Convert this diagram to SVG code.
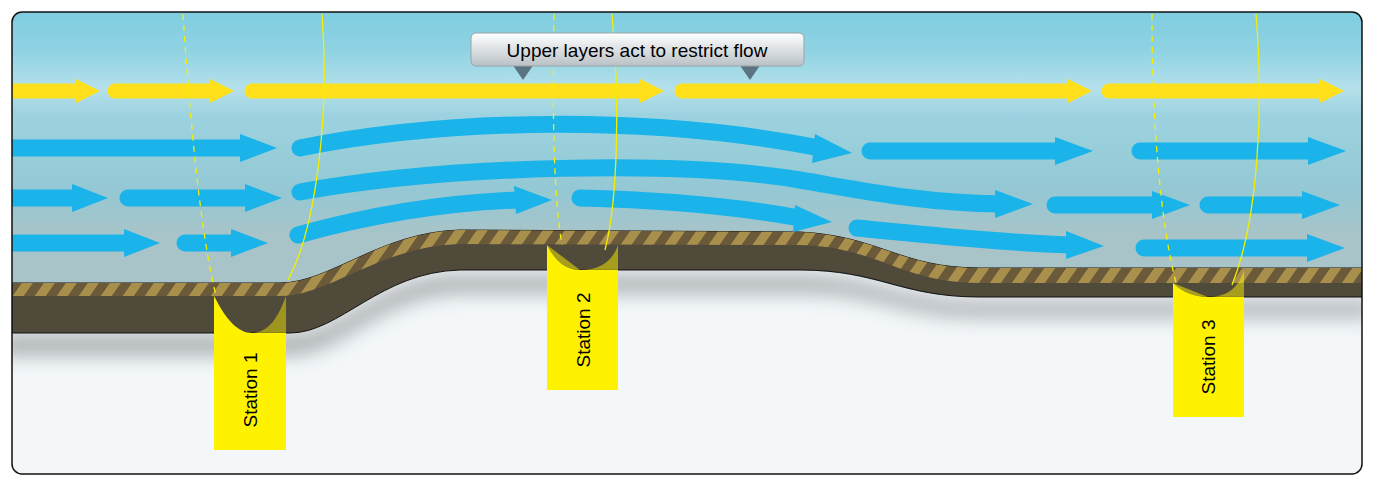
<svg xmlns="http://www.w3.org/2000/svg" width="1374" height="486" viewBox="0 0 1374 486">
<defs>
<linearGradient id="sky" x1="0" y1="0" x2="0" y2="1">
<stop offset="0" stop-color="#7fcde0"/><stop offset="0.12" stop-color="#8fd3e3"/><stop offset="0.24" stop-color="#b5e0ea"/><stop offset="0.32" stop-color="#9dd3e0"/><stop offset="0.55" stop-color="#93c8d4"/><stop offset="0.7" stop-color="#a8c4c8"/>
</linearGradient>
<linearGradient id="bub" x1="0" y1="0" x2="0" y2="1"><stop offset="0" stop-color="#ffffff"/><stop offset="1" stop-color="#b9c1c6"/></linearGradient>
<pattern id="stripe" width="22" height="40" patternUnits="userSpaceOnUse" patternTransform="skewX(-35)">
<rect width="22" height="40" fill="#6b5a3a"/><rect width="11" height="40" fill="#a8904c"/></pattern>
<filter id="sh" x="-0.1" y="-0.5" width="1.2" height="2"><feGaussianBlur stdDeviation="10"/></filter>
<clipPath id="fr"><rect x="12" y="12" width="1350" height="462" rx="10"/></clipPath>
</defs>
<style>
.y{fill:none;stroke:#ffe01a;stroke-width:15;stroke-linecap:round}
.yh{fill:#ffe01a}
.b{fill:none;stroke:#1ab3ea;stroke-width:17;stroke-linecap:round}
.bh{fill:#1ab3ea}
.vd{fill:none;stroke:#f2f000;stroke-width:1.3;stroke-dasharray:6 5}
.vs{fill:none;stroke:#f2f000;stroke-width:1.3}
.tag{fill:#fff200}
.lbl{font-family:"Liberation Sans",Arial,sans-serif;font-size:19px;fill:#000}
</style>
<g clip-path="url(#fr)">
<rect x="12" y="12" width="1350" height="462" fill="#f3f7fa"/>
<rect x="12" y="12" width="1350" height="320" fill="url(#sky)"/>
<path d="M0 333 L290 333 C340 333 380 270 460 270 L800 270 C880 272 900 297 980 297 L1374 297 L1374 486 L0 486Z" fill="#f3f7fa"/>
<path d="M0 336 L290 336 C340 336 380 276 460 276 L800 276 C880 278 900 302 980 302 L1374 302 L1374 316 L980 316 C900 316 880 292 800 292 L460 292 C380 294 340 354 290 354 L0 354Z" fill="#5a5f60" opacity="0.55" filter="url(#sh)"/>
<path d="M0 283 L280 283 C330 283 380 232 460 230 L800 232 C880 236 900 268 980 268 L1374 268 L1374 297 L980 297 C900 297 880 270 800 270 L460 270 C380 272 340 333 290 333 L0 333Z" fill="#4f4a3a" stroke="#111" stroke-width="1"/>
<path d="M0 283 L280 283 C330 283 380 232 460 230 L800 232 C880 236 900 268 980 268 L1374 268 L1374 283 L980 283 C900 283 880 247 800 245 L460 244 C380 246 330 296 280 296 L0 296Z" fill="url(#stripe)"/>
<g id="connectors">
<path class="y" d="M0 91 H78"/><path class="yh" d="M76 79 L100 91 L76 103Z"/>
<path class="y" d="M115 91 H212"/><path class="yh" d="M210 79 L234 91 L210 103Z"/>
<path class="y" d="M252 91 H642"/><path class="yh" d="M640 79 L664 91 L640 103Z"/>
<path class="y" d="M682 91 H1070"/><path class="yh" d="M1068 79 L1092 91 L1068 103Z"/>
<path class="y" d="M1109 91 H1322"/><path class="yh" d="M1320 79 L1344 91 L1320 103Z"/>

<path class="b" d="M0 148 H245"/><path class="bh" d="M240 134 L277 148 L240 162Z"/>
<path class="b" d="M300 148 C450 118 650 115 820 148"/><path class="bh" d="M815 134 L852 153 L812 163Z"/>
<path class="b" d="M870 151 H1058"/><path class="bh" d="M1055 137 L1093 151 L1055 165Z"/>
<path class="b" d="M1140 151 H1312"/><path class="bh" d="M1308 137 L1346 151 L1308 165Z"/>

<path class="b" d="M0 198 H75"/><path class="bh" d="M72 184 L108 198 L72 212Z"/>
<path class="b" d="M128 198 H248"/><path class="bh" d="M245 184 L282 198 L245 212Z"/>
<path class="b" d="M300 192 C450 165 680 160 800 180 C860 190 920 203 1000 204"/><path class="bh" d="M995 190 L1033 204 L995 218Z"/>
<path class="b" d="M1055 205 H1155"/><path class="bh" d="M1152 191 L1190 205 L1152 219Z"/>
<path class="b" d="M1208 205 H1305"/><path class="bh" d="M1302 191 L1340 205 L1302 219Z"/>

<path class="b" d="M0 243 H127"/><path class="bh" d="M124 229 L160 243 L124 257Z"/>
<path class="b" d="M185 243 H234"/><path class="bh" d="M231 229 L268 243 L231 257Z"/>
<path class="b" d="M298 235 C370 215 440 203 518 200"/><path class="bh" d="M514 186 L552 200 L516 214Z"/>
<path class="b" d="M580 198 C660 200 740 207 800 218"/><path class="bh" d="M795 205 L832 222 L793 232Z"/>
<path class="b" d="M857 228 C940 236 1010 243 1070 245"/><path class="bh" d="M1066 231 L1104 246 L1066 259Z"/>
<path class="b" d="M1144 248 H1310"/><path class="bh" d="M1307 234 L1345 248 L1307 262Z"/>
</g>
</g>
<g id="profiles">
<path class="vd" d="M183 14 C190 120 200 230 216 296"/>
<path class="vs" d="M322 14 C330 120 315 230 288 280"/>
<path class="vd" d="M554 14 C552 120 554 200 562 245"/>
<path class="vs" d="M612 14 C620 100 618 200 605 250"/>
<path class="vd" d="M1152 14 C1152 120 1160 220 1176 283"/>
<path class="vs" d="M1256 14 C1264 110 1258 220 1232 285"/>
</g>
<g id="station1">
<path class="tag" d="M214 296 C226 320 238 333 252 333 C268 333 278 318 286 296 L286 333 L214 333Z" opacity="0.45"/>
<path class="tag" d="M214 296 C226 320 238 333 252 333 L214 333Z"/>
<path class="tag" d="M214 333 L286 333 L286 450 L214 450Z"/>
<text class="lbl" transform="translate(257 390) rotate(-90)" text-anchor="middle">Station 1</text>
</g>
<g id="station2">
<path class="tag" d="M547 245 C556 262 566 270 580 270 C600 270 612 262 618 245 L618 270 L580 270Z" opacity="0.5"/>
<path class="tag" d="M547 245 C556 262 566 270 580 270 L547 270Z"/>
<path class="tag" d="M547 270 L618 270 L618 390 L547 390Z"/>
<text class="lbl" transform="translate(590 330) rotate(-90)" text-anchor="middle">Station 2</text>
</g>
<g id="station3">
<path class="tag" d="M1173 283 C1182 292 1195 297 1208 297 C1225 297 1238 290 1244 270 L1244 297 L1208 297Z" opacity="0.5"/>
<path class="tag" d="M1173 283 C1182 292 1195 297 1208 297 L1173 297Z"/>
<path class="tag" d="M1173 297 L1244 297 L1244 417 L1173 417Z"/>
<text class="lbl" transform="translate(1215 357) rotate(-90)" text-anchor="middle">Station 3</text>
</g>
<g id="callout">
<path d="M512 64 L534 64 L523 80Z M739 64 L761 64 L750 80Z" fill="#5c7481"/>
<rect x="471" y="33" width="333" height="33" rx="5" fill="url(#bub)" stroke="#9aa3a8" stroke-width="1"/>
<text class="lbl" x="637" y="57" text-anchor="middle">Upper layers act to restrict flow</text>
</g>
<rect x="12" y="12" width="1350" height="462" rx="10" fill="none" stroke="#111" stroke-width="1.5"/>
</svg>
